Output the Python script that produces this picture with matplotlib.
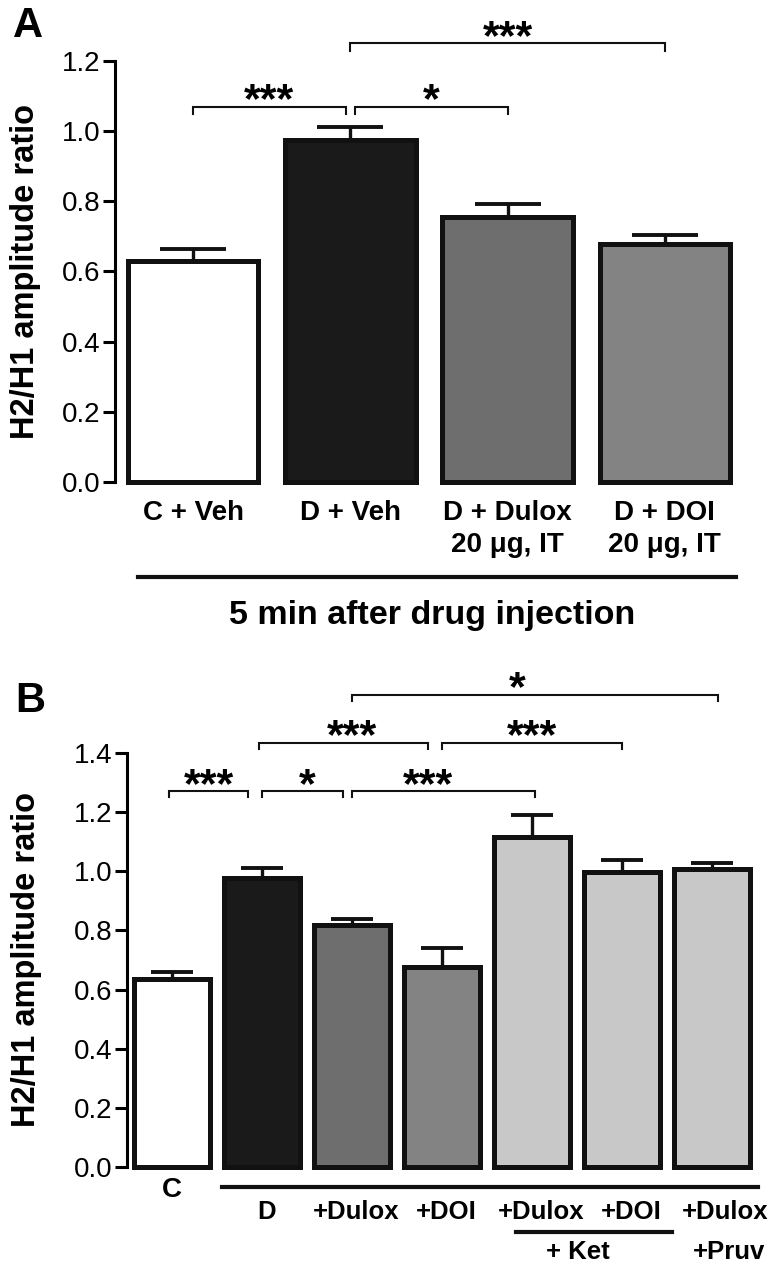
import numpy as np
import matplotlib.pyplot as plt

plt.rcParams['font.family'] = ['Liberation Sans', 'DejaVu Sans']

# panel A: 5 min after drug injection
a_labels = ['C + Veh', 'D + Veh', 'D + Dulox\n20 \u03bcg, IT', 'D + DOI\n20 \u03bcg, IT']
a_mean = [0.63, 0.975, 0.755, 0.677]
a_err = [0.033, 0.037, 0.037, 0.028]
a_colors = ['#ffffff', '#1a1a1a', '#6e6e6e', '#838383']
# (x from, x to, height, stars)
a_sig = [(0.0, 0.97, 1.07, '***'), (1.03, 2.0, 1.07, '*'), (1.0, 3.0, 1.25, '***')]

# panel B
b_labels = ['C', 'D', '+Dulox', '+DOI', '+Dulox', '+DOI', '+Dulox']
b_mean = [0.635, 0.977, 0.818, 0.675, 1.116, 0.998, 1.007]
b_err = [0.025, 0.033, 0.02, 0.065, 0.074, 0.04, 0.022]
b_colors = ['#ffffff', '#1a1a1a', '#6e6e6e', '#838383', '#c8c8c8', '#c8c8c8', '#c8c8c8']
b_sig = [(-0.03, 0.84, 1.27, '***'), (1.0, 1.9, 1.27, '*'), (2.0, 4.03, 1.27, '***'),
         (0.97, 2.84, 1.434, '***'), (3.0, 5.0, 1.434, '***'),
         (2.0, 6.07, 1.596, '*')]
b_star_x = [0.41, 1.5, 2.84, 2.0, 4.0, 3.84]
b_label_x = [0, 1.05, 2.05, 3.05, 4.1, 5.1, 6.15]

edge = '#111111'


def style_axis(ax, ymax):
    for s in ['top', 'right', 'bottom']:
        ax.spines[s].set_visible(False)
    ax.spines['left'].set_linewidth(2.2)
    ax.spines['left'].set_bounds(0, ymax)
    ax.set_yticks(np.arange(0, ymax + 0.01, 0.2))
    ax.set_yticklabels(['%.1f' % v for v in np.arange(0, ymax + 0.01, 0.2)])
    ax.tick_params(axis='y', direction='out', length=8.5, width=2.2, labelsize=20, pad=2)
    ax.set_xticks([])
    ax.set_ylim(0, ymax)
    ax.set_ylabel('H2/H1 amplitude ratio', fontsize=23.5, fontweight='bold')


def draw_bars(ax, mean, err, colors, width, capsize):
    x = np.arange(len(mean))
    ax.bar(x, mean, width=width, color=colors, edgecolor=edge, linewidth=3.6,
           zorder=2, clip_on=False)
    ax.errorbar(x, mean, yerr=[np.zeros(len(mean)), err], fmt='none', ecolor=edge,
                elinewidth=2.4, capsize=capsize, capthick=2.8, zorder=1, clip_on=False)


def draw_sig(ax, sig, star_x, drop):
    for (x0, x1, h, stars), sx in zip(sig, star_x):
        ax.plot([x0, x0, x1, x1], [h - drop, h, h, h - drop], color=edge, lw=1.5,
                clip_on=False, solid_joinstyle='miter')
        ax.annotate(stars, xy=(sx, h), xytext=(0, -4), textcoords='offset points',
                    ha='center', va='baseline', fontsize=31, fontweight='bold',
                    annotation_clip=False)


fig = plt.figure(figsize=(7.73, 12.65), dpi=100)

##
axA = fig.add_axes([0.1488, 0.619, 0.8085, 0.3328])
draw_bars(axA, a_mean, a_err, a_colors, 0.83, 24)
style_axis(axA, 1.2)
axA.set_xlim(-0.496, 3.478)
axA.yaxis.set_label_coords(-0.118, 0.5)
draw_sig(axA, a_sig, [(s[0] + s[1]) / 2 for s in a_sig], 0.022)
for i, lab in enumerate(a_labels):
    axA.text(i, -0.05, lab, ha='center', va='top', fontsize=20, fontweight='bold',
             linespacing=1.3)
axA.plot([-0.35, 3.45], [-0.271, -0.271], color=edge, lw=3, clip_on=False)
axA.text(1.52, -0.38, '5 min after drug injection', ha='center', va='center',
         fontsize=24.5, fontweight='bold')

##
axB = fig.add_axes([0.1643, 0.0775, 0.8189, 0.3273])
draw_bars(axB, b_mean, b_err, b_colors, 0.845, 14.8)
style_axis(axB, 1.4)
axB.set_xlim(-0.5, 6.533)
axB.yaxis.set_label_coords(-0.135, 0.5)
draw_sig(axB, b_sig, b_star_x, 0.02)
axB.text(b_label_x[0], -0.078, b_labels[0], ha='center', va='center', fontsize=20,
         fontweight='bold')
for lx, lab in zip(b_label_x[1:], b_labels[1:]):
    axB.text(lx, -0.152, lab, ha='center', va='center', fontsize=18.5, fontweight='bold')
axB.plot([0.556, 6.51], [-0.068, -0.068], color=edge, lw=3, clip_on=False)
axB.plot([3.82, 5.56], [-0.22, -0.22], color=edge, lw=3, clip_on=False)
axB.text(4.51, -0.287, '+ Ket', ha='center', va='center', fontsize=18.5, fontweight='bold')
axB.text(6.19, -0.287, '+Pruv', ha='center', va='center', fontsize=18.5, fontweight='bold')

fig.text(13 / 773, 1 - 37 / 1265, 'A', fontsize=30, fontweight='bold', va='baseline')
fig.text(15 / 773, 1 - 712 / 1265, 'B', fontsize=30, fontweight='bold', va='baseline')

fig.savefig('out.png', dpi=100)
